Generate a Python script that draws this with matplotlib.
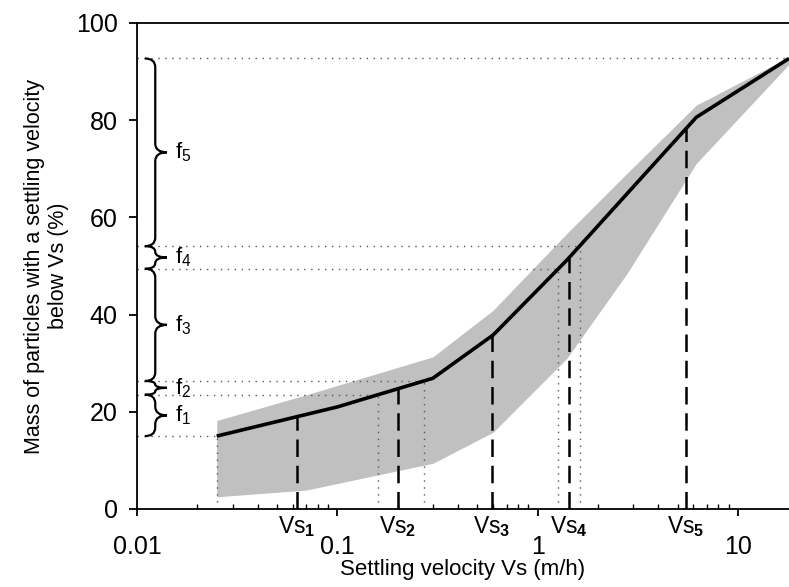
import numpy as np
import matplotlib
matplotlib.use("Agg")
import matplotlib.pyplot as plt
from matplotlib.path import Path
from matplotlib.patches import PathPatch
from matplotlib.transforms import blended_transform_factory

plt.rcParams['font.family'] = ['Liberation Sans', 'DejaVu Sans']
plt.rcParams['mathtext.fontset'] = 'custom'
plt.rcParams['mathtext.rm'] = 'Liberation Sans'
plt.rcParams['mathtext.it'] = 'Liberation Sans:italic'
plt.rcParams['mathtext.bf'] = 'Liberation Sans:bold'

# ---- data ----
mean_x = [0.025, 0.1, 0.3, 0.6, 1.4, 6.2, 18]
mean_y = [15, 21, 26.9, 35.8, 51.2, 80.6, 92.7]

band_x = [0.025, 0.07, 0.3, 0.6, 1.4, 2.8, 6.2, 18]
band_upper = [18.2, 23.5, 31.3, 40.9, 56.7, 69.1, 83.1, 93.0]
band_lower = [2.5, 3.9, 9.4, 15.8, 31.0, 48.5, 71.1, 91.5]

vs_values = [0.063, 0.2, 0.59, 1.43, 5.5]
vs_labels = [r'Vs$_\mathbf{1}$', r'Vs$_\mathbf{2}$', r'Vs$_\mathbf{3}$',
             r'Vs$_\mathbf{4}$', r'Vs$_\mathbf{5}$']

bound_x = [0.025, 0.16, 0.27, 1.27, 1.62, 18]
f_labels = [r'f$_1$', r'f$_2$', r'f$_3$', r'f$_4$', r'f$_5$']

xticks = [0.01, 0.1, 1, 10]
xtick_labels = ['0.01', '0.1', '1', '10']
yticks = [0, 20, 40, 60, 80, 100]


def curve(v):
    return np.interp(np.log10(v), np.log10(mean_x), mean_y)


fig = plt.figure(figsize=(7.89, 5.87), dpi=100)
ax = fig.add_axes([137 / 789, 78 / 587, 652 / 789, 486 / 587])
ax.set_xscale('log')
ax.set_xlim(0.01, 18)
ax.set_ylim(0, 100)

ax.fill_between(band_x, band_lower, band_upper, color='#c0c0c0', lw=0, zorder=1)

# dotted guide lines
by = [float(curve(b)) for b in bound_x]
for i, (bx, yy) in enumerate(zip(bound_x, by)):
    ax.plot([0.01, bx], [yy, yy], color='#555555', lw=1.0,
            linestyle=(0, (1, 4)), zorder=2)
    if i < len(bound_x) - 1:
        ax.plot([bx, bx], [0, yy], color='#555555', lw=1.0,
                linestyle=(0, (1, 4)), zorder=2)

# dashed Vs lines
for v in vs_values:
    ax.plot([v, v], [0, float(curve(v))], color='black', lw=1.8,
            dashes=(7, 3.5), zorder=3)

ax.plot(mean_x, mean_y, color='black', lw=2.6, zorder=4, solid_capstyle='butt')

# braces
trans = blended_transform_factory(ax.transAxes, ax.transData)
xe, xm, xt = 0.012, 0.028, 0.046
for (y0, y1, lab) in zip(by[:-1], by[1:], f_labels):
    h = y1 - y0
    r = min(1.8, h / 4)
    ym = (y0 + y1) / 2
    verts = [(xe, y0), (xm, y0), (xm, y0 + r),
             (xm, ym - r),
             (xm, ym), (xt, ym),
             (xm, ym), (xm, ym + r),
             (xm, y1 - r),
             (xm, y1), (xe, y1)]
    codes = [Path.MOVETO, Path.CURVE3, Path.CURVE3,
             Path.LINETO,
             Path.CURVE3, Path.CURVE3,
             Path.CURVE3, Path.CURVE3,
             Path.LINETO,
             Path.CURVE3, Path.CURVE3]
    ax.add_patch(PathPatch(Path(verts, codes), fill=False, lw=1.6,
                           edgecolor='black', transform=trans, clip_on=False,
                           zorder=5))
    ax.text(xt + 0.012, ym, lab, transform=trans, fontsize=16,
            ha='left', va='center')

# Vs labels below axis
tb = blended_transform_factory(ax.transData, ax.transAxes)
for v, lab in zip(vs_values, vs_labels):
    ax.text(v, -0.010, lab, transform=tb, ha='center', va='top', fontsize=16.5)

ax.set_xticks(xticks)
ax.set_xticklabels(xtick_labels)
ax.set_yticks(yticks)
ax.tick_params(axis='x', which='major', direction='out', length=5, width=1.3,
               pad=14, labelsize=18)
ax.tick_params(axis='x', which='minor', direction='in', length=3.5, width=1.0)
ax.tick_params(axis='y', which='major', direction='out', length=6, width=1.3,
               labelsize=18, pad=8)
ax.spines['right'].set_visible(False)
for s in ['left', 'bottom', 'top']:
    ax.spines[s].set_linewidth(1.3)

ax.set_xlabel('Settling velocity Vs (m/h)', fontsize=16, labelpad=0)
ax.set_ylabel('Mass of particles with a settling velocity\nbelow Vs (%)',
              fontsize=15.5, labelpad=5, multialignment='center')

fig.savefig('out.png', dpi=100)
